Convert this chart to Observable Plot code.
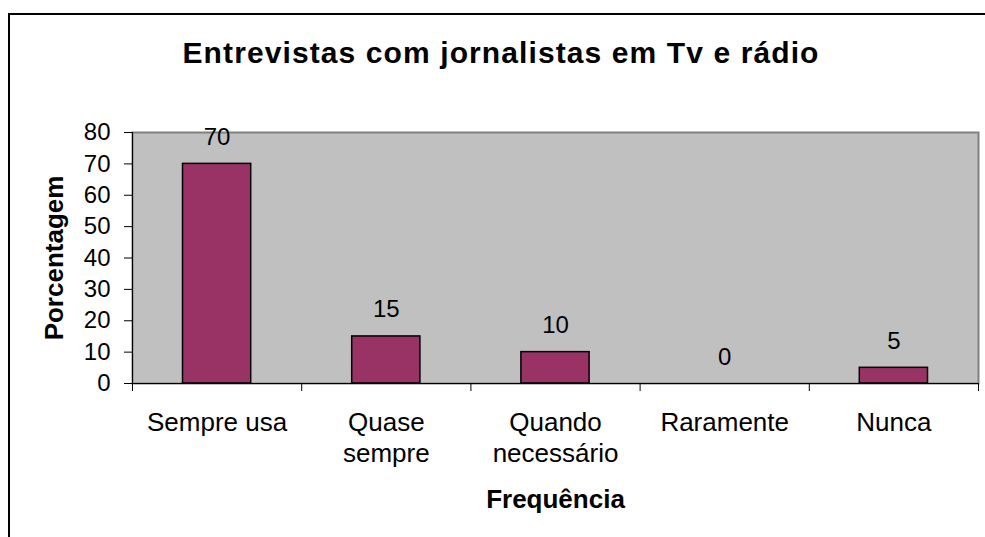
<!DOCTYPE html>
<html><head><meta charset="utf-8">
<script src="https://cdn.jsdelivr.net/npm/d3@7"></script>
<script src="https://cdn.jsdelivr.net/npm/@observablehq/plot@0.6"></script>
<style>
html,body{margin:0;padding:0;background:#fff;overflow:hidden;}
#wrap{position:relative;width:985px;height:537px;overflow:hidden;font-family:"Liberation Sans",Arial,sans-serif;}
#box{position:absolute;left:8px;top:13px;width:1100px;height:700px;border-left:2px solid #000;border-top:2px solid #000;}
#title{position:absolute;left:0;top:37.6px;width:1002px;text-align:center;font-weight:bold;font-size:30px;line-height:30px;letter-spacing:1.1px;color:#000;white-space:nowrap;}
#chart{position:absolute;left:0;top:0;}
</style></head><body>
<div id="wrap"><div id="box"></div><div id="title"></div><div id="chart"></div></div>
<script>
const title = "Entrevistas com jornalistas em Tv e rádio";
const categories = ["Sempre usa", "Quase\nsempre", "Quando\nnecessário", "Raramente", "Nunca"];
const values = [70, 15, 10, 0, 5];
const yTicks = [0, 10, 20, 30, 40, 50, 60, 70, 80];
const yLabel = "Porcentagem";
const xLabel = "Frequência";

document.getElementById("title").textContent = title;

const rows = categories.map((c, i) => ({category: c, i, value: values[i]}));

const chart = Plot.plot({
  width: 985, height: 537,
  marginLeft: 132, marginRight: 7, marginTop: 132, marginBottom: 154,
  style: {fontFamily: "'Liberation Sans', Arial, sans-serif", fontSize: "24px", color: "#000", background: "transparent", overflow: "visible"},
  x: {domain: [0, categories.length]},
  y: {domain: [0, 80]},
  marks: [
    Plot.frame({fill: "#C0C0C0"}),
    Plot.frame({stroke: "#808080", strokeWidth: 2}),
    Plot.rect(rows.filter(d => d.value > 0), {x1: "i", x2: d => d.i + 1, y1: 0, y2: "value", insetLeft: 50.5, insetRight: 50.5, fill: "#993366", stroke: "#000", strokeWidth: 1.5}),
    Plot.ruleX([0], {stroke: "#000"}),
    Plot.ruleY([0], {stroke: "#000"}),
    Plot.axisY({ticks: yTicks, tickSize: 8, tickPadding: 14, fontSize: 24, label: null, stroke: "#000"}),
    Plot.axisX({ticks: d3.range(0, categories.length + 1), tickSize: 8, tickFormat: () => "", label: null, stroke: "#000"}),
    Plot.axisX({ticks: d3.range(0.5, categories.length), tickSize: 0, tickPadding: 25, tickFormat: d => categories[Math.floor(d)], fontSize: 26, lineHeight: 1.2, label: null}),
    Plot.text(rows, {x: d => d.i + 0.5, y: "value", text: d => String(d.value), dy: -19, lineAnchor: "bottom", fontSize: 24}),
    Plot.text([yLabel], {text: d => d, frameAnchor: "left", textAnchor: "middle", dx: -78, rotate: -90, fontSize: 26, fontWeight: "bold"}),
    Plot.text([xLabel], {text: d => d, frameAnchor: "bottom", dy: 124, lineAnchor: "bottom", fontSize: 26, fontWeight: "bold"})
  ]
});
document.getElementById("chart").appendChild(chart);
</script>
</body></html>
